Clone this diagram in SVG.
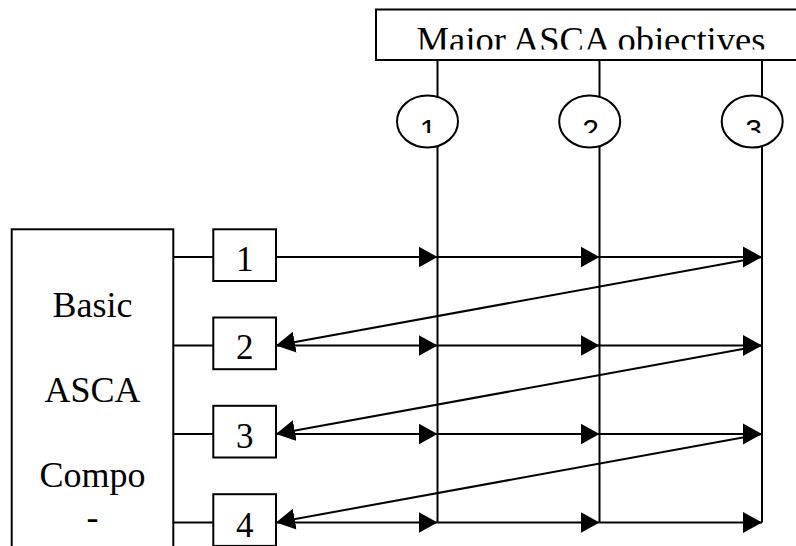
<svg xmlns="http://www.w3.org/2000/svg" width="796" height="546" viewBox="0 0 796 546">
<style>
.box{fill:#fff;stroke:#000;stroke-width:2}
.ln{fill:none;stroke:#000;stroke-width:2}
.serif{font-family:"Liberation Serif","Times New Roman",serif;fill:#000}
.sans{font-family:"Liberation Sans",Arial,sans-serif;fill:#000}
</style>
<defs>
<marker id="ah" markerUnits="userSpaceOnUse" markerWidth="20" markerHeight="22" refX="19" refY="10.5" orient="auto" viewBox="0 0 20 21">
<path d="M0,0 L19,10.5 L0,21 z" fill="#000"/>
</marker>
<clipPath id="clipTitle"><rect x="376" y="9" width="420" height="40.5"/></clipPath>
<clipPath id="clipNum"><rect x="380" y="100" width="416" height="33"/></clipPath>
</defs>

<g id="connectors">
<line class="ln" x1="437.5" y1="60" x2="437.5" y2="522.5"/>
<line class="ln" x1="599.5" y1="60" x2="599.5" y2="522.5"/>
<line class="ln" x1="762" y1="60" x2="762" y2="522.5"/>

<line class="ln" x1="173" y1="257" x2="213" y2="257"/>
<line class="ln" x1="173" y1="345.5" x2="213" y2="345.5"/>
<line class="ln" x1="173" y1="434" x2="213" y2="434"/>
<line class="ln" x1="173" y1="522.5" x2="213" y2="522.5"/>

<line class="ln" x1="276" y1="257" x2="437.5" y2="257" marker-end="url(#ah)"/>
<line class="ln" x1="437.5" y1="257" x2="599.5" y2="257" marker-end="url(#ah)"/>
<line class="ln" x1="599.5" y1="257" x2="762" y2="257" marker-end="url(#ah)"/>

<line class="ln" x1="276" y1="345.5" x2="437.5" y2="345.5" marker-end="url(#ah)"/>
<line class="ln" x1="437.5" y1="345.5" x2="599.5" y2="345.5" marker-end="url(#ah)"/>
<line class="ln" x1="599.5" y1="345.5" x2="762" y2="345.5" marker-end="url(#ah)"/>

<line class="ln" x1="276" y1="434" x2="437.5" y2="434" marker-end="url(#ah)"/>
<line class="ln" x1="437.5" y1="434" x2="599.5" y2="434" marker-end="url(#ah)"/>
<line class="ln" x1="599.5" y1="434" x2="762" y2="434" marker-end="url(#ah)"/>

<line class="ln" x1="276" y1="522.5" x2="437.5" y2="522.5" marker-end="url(#ah)"/>
<line class="ln" x1="437.5" y1="522.5" x2="599.5" y2="522.5" marker-end="url(#ah)"/>
<line class="ln" x1="599.5" y1="522.5" x2="762" y2="522.5" marker-end="url(#ah)"/>

<line class="ln" x1="762" y1="257" x2="276" y2="345.5" marker-end="url(#ah)"/>
<line class="ln" x1="762" y1="345.5" x2="276" y2="434" marker-end="url(#ah)"/>
<line class="ln" x1="762" y1="434" x2="276" y2="522.5" marker-end="url(#ah)"/>
</g>

<g id="objectives">
<rect class="box" x="376" y="9.5" width="440" height="50.5"/>
<text class="serif" x="591" y="51.5" font-size="36.5" text-anchor="middle" clip-path="url(#clipTitle)">Major ASCA objectives</text>
</g>

<g id="obj1">
<ellipse class="box" cx="427.5" cy="121.5" rx="30.5" ry="26"/>
<text class="sans" x="428" y="140" font-size="30" text-anchor="middle" clip-path="url(#clipNum)">1</text>
</g>
<g id="obj2">
<ellipse class="box" cx="589.7" cy="121.5" rx="30.5" ry="26"/>
<text class="sans" x="590.5" y="140" font-size="30" text-anchor="middle" clip-path="url(#clipNum)">2</text>
</g>
<g id="obj3">
<ellipse class="box" cx="752.2" cy="121.5" rx="30.5" ry="26"/>
<text class="sans" x="753.5" y="140" font-size="30" text-anchor="middle" clip-path="url(#clipNum)">3</text>
</g>

<g id="components">
<rect class="box" x="11.7" y="229.3" width="161.6" height="330"/>
<text class="serif" x="92.5" y="316.7" font-size="36" text-anchor="middle">Basic</text>
<text class="serif" x="92.5" y="401.7" font-size="36" text-anchor="middle">ASCA</text>
<text class="serif" x="92.5" y="486.7" font-size="36" text-anchor="middle">Compo</text>
<text class="serif" x="92.5" y="528.5" font-size="36" text-anchor="middle">-</text>
</g>

<g id="comp1">
<rect class="box" x="213.3" y="229.3" width="62.7" height="51.7"/>
<text class="serif" x="244.7" y="270.7" font-size="35" text-anchor="middle">1</text>
</g>
<g id="comp2">
<rect class="box" x="213.3" y="317.5" width="62.7" height="51.7"/>
<text class="serif" x="244.7" y="359.3" font-size="35" text-anchor="middle">2</text>
</g>
<g id="comp3">
<rect class="box" x="213.3" y="405.8" width="62.7" height="51.7"/>
<text class="serif" x="244.7" y="448" font-size="35" text-anchor="middle">3</text>
</g>
<g id="comp4">
<rect class="box" x="213.3" y="494.2" width="62.7" height="51.7"/>
<text class="serif" x="244.7" y="536.7" font-size="35" text-anchor="middle">4</text>
</g>
</svg>
